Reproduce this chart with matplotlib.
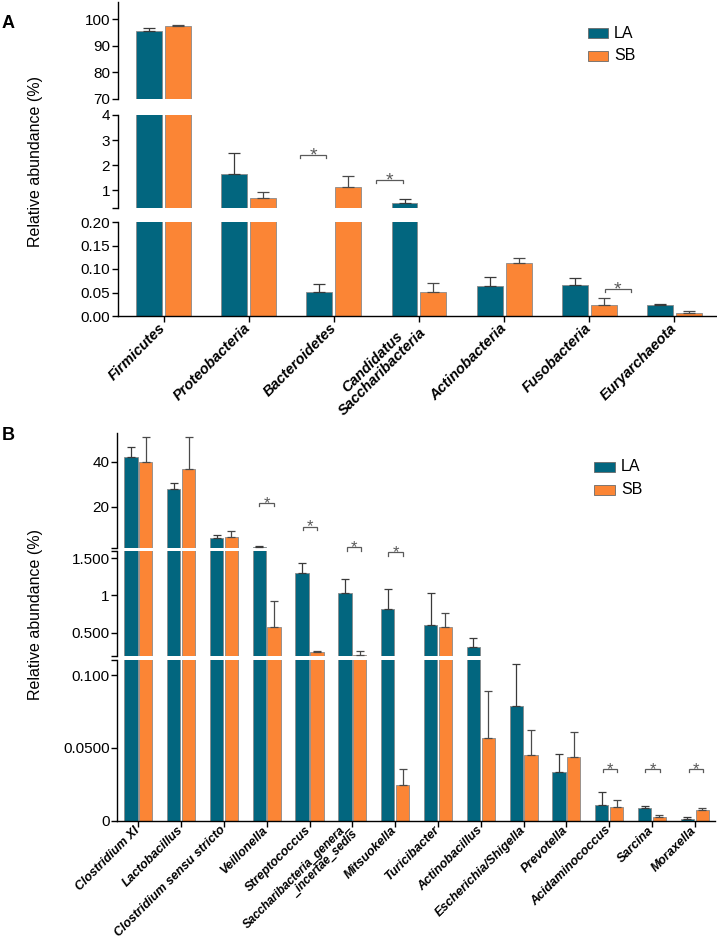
import matplotlib
matplotlib.use("Agg")
import matplotlib.pyplot as plt
from matplotlib.patches import Rectangle
import matplotlib.transforms as mtransforms
import numpy as np

plt.rcParams['font.family'] = ['Liberation Sans', 'DejaVu Sans']

# ---------------- data ----------------
phyla = ['Firmicutes', 'Proteobacteria', 'Bacteroidetes', 'Candidatus\nSaccharibacteria',
         'Actinobacteria', 'Fusobacteria', 'Euryarchaeota']
phyla_LA = [95.5, 1.67, 0.051, 0.49, 0.063, 0.066, 0.023]
phyla_LA_err = [1.1, 0.83, 0.018, 0.18, 0.021, 0.014, 0.003]
phyla_SB = [97.5, 0.71, 1.13, 0.051, 0.112, 0.023, 0.006]
phyla_SB_err = [0.2, 0.22, 0.46, 0.020, 0.012, 0.015, 0.004]
# significance brackets: (x start, x end, segment, height)
phyla_sig = [(1.60, 1.91, 1, 2.41), (2.50, 2.81, 1, 1.42), (5.18, 5.49, 2, 0.058)]

genera = ['Clostridium XI', 'Lactobacillus', 'Clostridium sensu stricto', 'Veillonella',
          'Streptococcus', 'Saccharibacteria_genera_\n_incertae_sedis', 'Mitsuokella',
          'Turicibacter', 'Actinobacillus', 'Escherichia/Shigella', 'Prevotella',
          'Acidaminococcus', 'Sarcina', 'Moraxella']
genera_LA = [42.2, 27.9, 5.9, 2.0, 1.30, 1.03, 0.82, 0.60, 0.308, 0.0787, 0.0332, 0.0106, 0.0087, 0.0014]
genera_LA_err = [4.5, 2.7, 1.7, 0.5, 0.14, 0.19, 0.27, 0.43, 0.117, 0.029, 0.0128, 0.0093, 0.0016, 0.0009]
genera_SB = [40.0, 36.9, 6.7, 0.573, 0.237, 0.195, 0.0243, 0.577, 0.0568, 0.0451, 0.0435, 0.0092, 0.0028, 0.0073]
genera_SB_err = [10.9, 14.0, 2.7, 0.357, 0.017, 0.059, 0.011, 0.193, 0.0319, 0.0169, 0.0172, 0.0048, 0.0013, 0.0012]
genera_sig = [(2.83, 3.17, 0, 21.8), (3.84, 4.18, 0, 11.2), (4.87, 5.20, 0, 1.9), (5.84, 6.19, 1, 1.58),
              (10.85, 11.19, 2, 0.0355), (11.84, 12.18, 2, 0.0355), (12.86, 13.20, 2, 0.0355)]

# axis segments (ranges, ticks, tick labels)
A_ranges = [(70, 106.4), (0.3, 4), (0, 0.2)]
A_ticks = [[70, 80, 90, 100], [0.3, 1, 2, 3, 4], [0, 0.05, 0.10, 0.15, 0.20]]
A_ticklabels = [['70', '80', '90', '100'], ['', '1', '2', '3', '4'],
                ['0.00', '0.05', '0.10', '0.15', '0.20']]
B_ranges = [(1.62, 52.9), (0.187, 1.602), (0, 0.1103)]
B_ticks = [[1.62, 20, 40], [0.187, 0.5, 1, 1.5, 1.602], [0, 0.05, 0.1, 0.1103]]
B_ticklabels = [['', '20', '40'], ['', '0.500', '1', '1.500', ''], ['0', '0.0500', '0.100', '']]

groups = ['LA', 'SB']
LA_C = '#02667F'
SB_C = '#FB8535'
EDGE = '#8a8a8a'

W, H = 717, 944
fig = plt.figure(figsize=(W / 100, H / 100), dpi=100)


def fpos(l, t, r, b):
    return [l / W, 1 - b / H, (r - l) / W, (b - t) / H]


def err(ax, xs, m, e, lo, hi, color, capsize):
    m = np.asarray(m, float)
    e = np.asarray(e, float)
    keep = (m + e >= lo) & (m <= hi)
    if keep.any():
        ax.errorbar(np.asarray(xs)[keep], m[keep], yerr=[np.zeros(keep.sum()), e[keep]], fmt='none',
                    ecolor=color, elinewidth=0.9, capsize=capsize, capthick=0.9, zorder=3)


def draw_panel(seg_px, ranges, ticks, ticklabels, xlim, left, right, cats, la, la_e, sb, sb_e,
               width, off, capsize, lab_fs, lab_pad, multi, sig, star_fs, star_off, brk_tick):
    n = len(cats)
    x = np.arange(n)
    axes = []
    for i, (t, b) in enumerate(seg_px):
        ax = fig.add_axes(fpos(left, t, right, b))
        ax.patch.set_alpha(0)
        lo, hi = ranges[i]
        ax.bar(x - off, la, width, color=LA_C, edgecolor=EDGE, linewidth=0.6, zorder=2)
        ax.bar(x + off, sb, width, color=SB_C, edgecolor=EDGE, linewidth=0.6, zorder=2)
        err(ax, x - off, la, la_e, lo, hi, '#3a3a3a', capsize)
        err(ax, x + off, sb, sb_e, lo, hi, '#4a4a4a', capsize)
        ax.set_xlim(*xlim)
        ax.set_ylim(lo, hi)
        ax.set_yticks(ticks[i], ticklabels[i])
        for s in ['top', 'right']:
            ax.spines[s].set_visible(False)
        ax.spines['left'].set_linewidth(1.0)
        ax.tick_params(axis='y', direction='out', length=4.1, width=1.0, pad=1.5, labelsize=11)
        if i == len(seg_px) - 1:
            ax.spines['bottom'].set_linewidth(1.0)
            ax.set_xticks(x)
            labs = ax.set_xticklabels(cats, rotation=45, ha='right', va='center', rotation_mode='anchor',
                                      fontstyle='italic', fontweight='bold', fontsize=lab_fs,
                                      multialignment=multi, linespacing=0.95)
            for lab in labs:
                if '\n' in lab.get_text() and len(lab.get_text()) > 30:
                    lab.set_fontsize(lab_fs - 0.5)
            ax.tick_params(axis='x', direction='out', length=4.1, width=1.0, pad=lab_pad)
        else:
            ax.spines['bottom'].set_visible(False)
            ax.set_xticks([])
        axes.append(ax)
    # significance brackets
    for (x0, x1, si, y) in sig:
        ax = axes[si]
        ylo, yhi = ax.get_ylim()
        hpx = ax.get_position().height * H
        dy = brk_tick * (yhi - ylo) / hpx
        ax.plot([x0, x0, x1, x1], [y - dy, y, y, y - dy], color='#5a5a5a', lw=0.9,
                clip_on=False, zorder=4, solid_joinstyle='miter')
        tr = mtransforms.offset_copy(ax.transData, fig=fig, y=-star_off, units='dots')
        ax.text((x0 + x1) / 2, y, '*', transform=tr, ha='center', va='baseline',
                fontsize=star_fs, color='#5a5a5a', clip_on=False)
    return axes


# Panel A
draw_panel([(2, 99), (115, 208), (222, 316)], A_ranges, A_ticks, A_ticklabels,
           (-0.535, 6.50), 118, 717, phyla, phyla_LA, phyla_LA_err, phyla_SB, phyla_SB_err,
           0.305, 0.17, 4.2, 10.5, 3, 'center', phyla_sig, 14, 6, 2.8)

# Panel B
draw_panel([(433, 548), (550.7, 656), (660, 820.7)], B_ranges, B_ticks, B_ticklabels,
           (-0.49, 13.47), 117.3, 715, genera, genera_LA, genera_LA_err, genera_SB, genera_SB_err,
           0.31, 0.173, 2.6, 9.0, 1.5, 'right', genera_sig, 12, 5, 3.3)

# y labels
fig.text(35.5 / W, 1 - 161.5 / H, 'Relative abundance (%)', rotation=90, ha='center', va='center', fontsize=11.5)
fig.text(35.5 / W, 1 - 614 / H, 'Relative abundance (%)', rotation=90, ha='center', va='center', fontsize=11.5)

# panel letters
fig.text(8 / W, 1 - 23 / H, 'A', ha='center', va='center', fontsize=13, fontweight='bold')
fig.text(8 / W, 1 - 435 / H, 'B', ha='center', va='center', fontsize=13, fontweight='bold')


# legends
def legend(xp, yc_list, tx):
    for g, c, yc in zip(groups, [LA_C, SB_C], yc_list):
        fig.patches.append(Rectangle((xp[0] / W, 1 - (yc + 5.3) / H), (xp[1] - xp[0]) / W, 10.6 / H,
                                     transform=fig.transFigure, facecolor=c, edgecolor='#6a6a6a',
                                     linewidth=0.6))
        fig.text(tx / W, 1 - yc / H, g, ha='left', va='center', fontsize=11.5)


legend((588, 608), [33, 56], 614)
legend((594, 615), [467, 490], 621)

fig.savefig('out.png', dpi=100)
